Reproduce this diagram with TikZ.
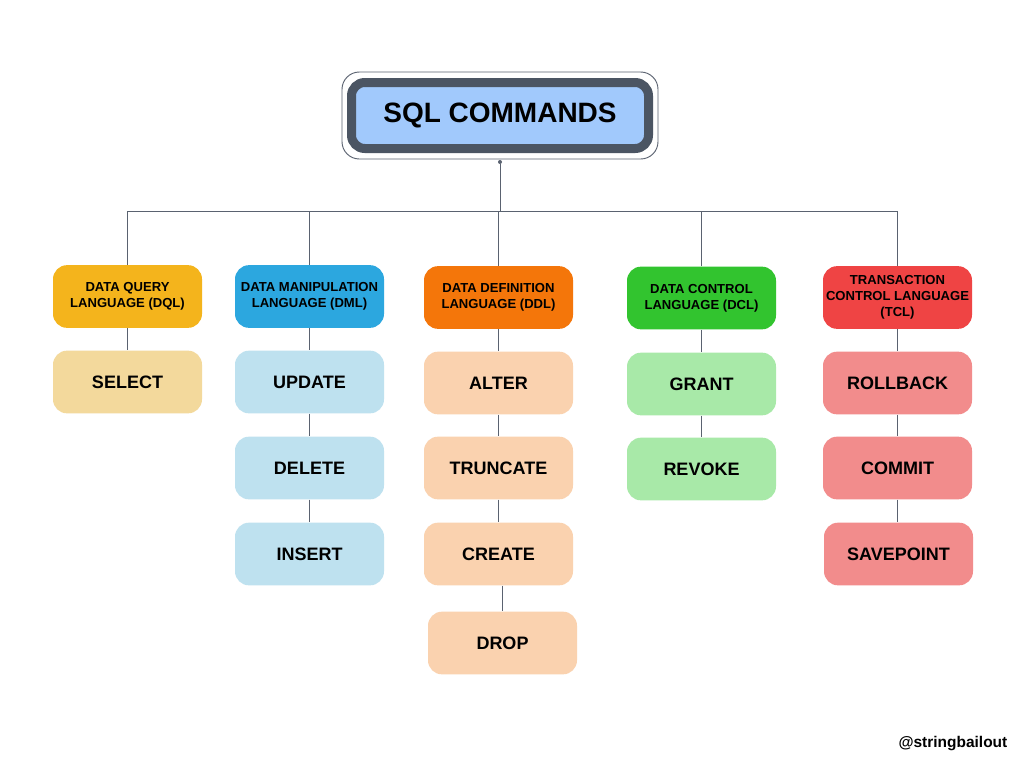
\documentclass[tikz,border=0pt]{standalone}
\usepackage{fontspec}
\setmainfont{Liberation Sans}
\definecolor{dqlC}{HTML}{F4B41C}
\definecolor{dmlC}{HTML}{2CA7DF}
\definecolor{ddlC}{HTML}{F4760A}
\definecolor{dclC}{HTML}{32C42F}
\definecolor{tclC}{HTML}{EF4444}
\definecolor{dqlL}{HTML}{F3D99C}
\definecolor{dmlL}{HTML}{BEE1EF}
\definecolor{ddlL}{HTML}{FAD2AF}
\definecolor{dclL}{HTML}{A8E9A8}
\definecolor{tclL}{HTML}{F28C8C}
\definecolor{mainF}{HTML}{A1C9FC}
\definecolor{frameC}{HTML}{4B5563}
\definecolor{lineC}{HTML}{5A6270}
\tikzset{
  box/.style={rounded corners=10.5pt, minimum width=111.75pt, minimum height=47pt, inner sep=0pt, align=center, text=black},
  cat/.style={box, font=\bfseries\fontsize{9.8}{12}\selectfont},
  cmd/.style={box, font=\bfseries\fontsize{13.5}{16}\selectfont},
  conn/.style={draw=lineC, line width=0.65pt},
}
\begin{document}
\begin{tikzpicture}[x=0.75pt,y=-0.75pt]
\useasboundingbox[fill=white] (0,0) rectangle (1024,768);
% title
\node[draw=lineC, line width=0.7pt, rounded corners=13pt, minimum width=237pt, minimum height=65.25pt] (outer) at (500,115.5) {};
\node[draw=frameC, fill=mainF, line width=6.75pt, rounded corners=10pt, minimum width=222.75pt, minimum height=49.5pt, inner sep=0pt, font=\bfseries\fontsize{21}{24}\selectfont] (main) at (500,115.5) {SQL COMMANDS};
\node[circle, fill=lineC, inner sep=0pt, minimum size=3pt] (dot) at (500,162) {};
\coordinate (busL) at (127,211);
\coordinate (busR) at (898,211);
% categories
\node[cat, fill=dqlC] (dql) at (127.5,296.5) {DATA QUERY\\LANGUAGE (DQL)};
\node[cat, fill=dmlC] (dml) at (309.5,296.5) {DATA MANIPULATION\\LANGUAGE (DML)};
\node[cat, fill=ddlC] (ddl) at (498.5,297.5) {DATA DEFINITION\\LANGUAGE (DDL)};
\node[cat, fill=dclC] (dcl) at (701.5,298) {DATA CONTROL\\LANGUAGE (DCL)};
\node[cat, fill=tclC] (tcl) at (897.5,297.5) {TRANSACTION\\CONTROL LANGUAGE\\(TCL)};
% commands
\node[cmd, fill=dqlL] (select) at (127.5,382) {SELECT};
\node[cmd, fill=dmlL] (update) at (309.5,382) {UPDATE};
\node[cmd, fill=dmlL] (delete) at (309.5,468) {DELETE};
\node[cmd, fill=dmlL] (insert) at (309.5,554) {INSERT};
\node[cmd, fill=ddlL] (alter) at (498.5,383) {ALTER};
\node[cmd, fill=ddlL] (truncate) at (498.5,468) {TRUNCATE};
\node[cmd, fill=ddlL] (create) at (498.5,554) {CREATE};
\node[cmd, fill=ddlL] (drop) at (502.5,643) {DROP};
\node[cmd, fill=dclL] (grant) at (701.5,384) {GRANT};
\node[cmd, fill=dclL] (revoke) at (701.5,469) {REVOKE};
\node[cmd, fill=tclL] (rollback) at (897.5,383) {ROLLBACK};
\node[cmd, fill=tclL] (commit) at (897.5,468) {COMMIT};
\node[cmd, fill=tclL] (savepoint) at (898.5,554) {SAVEPOINT};
% connectors
\draw[conn] (busL) -- (busR);
\draw[conn] (dot) -- (dot |- busL);
\foreach \n in {dql,dml,ddl,dcl,tcl} \draw[conn] (\n.north) -- (\n.north |- busL);
\draw[conn] (dql) -- (select);
\draw[conn] (dml) -- (update);
\draw[conn] (update) -- (delete);
\draw[conn] (delete) -- (insert);
\draw[conn] (ddl) -- (alter);
\draw[conn] (alter) -- (truncate);
\draw[conn] (truncate) -- (create);
\draw[conn] (create.south -| drop.north) -- (drop.north);
\draw[conn] (dcl) -- (grant);
\draw[conn] (grant) -- (revoke);
\draw[conn] (tcl) -- (rollback);
\draw[conn] (rollback) -- (commit);
\draw[conn] (commit) -- (savepoint.north -| commit.south);
\node[font=\bfseries\fontsize{11.6}{13}\selectfont, anchor=east] (tag) at (1012,744) {@stringbailout};
\end{tikzpicture}
\end{document}
